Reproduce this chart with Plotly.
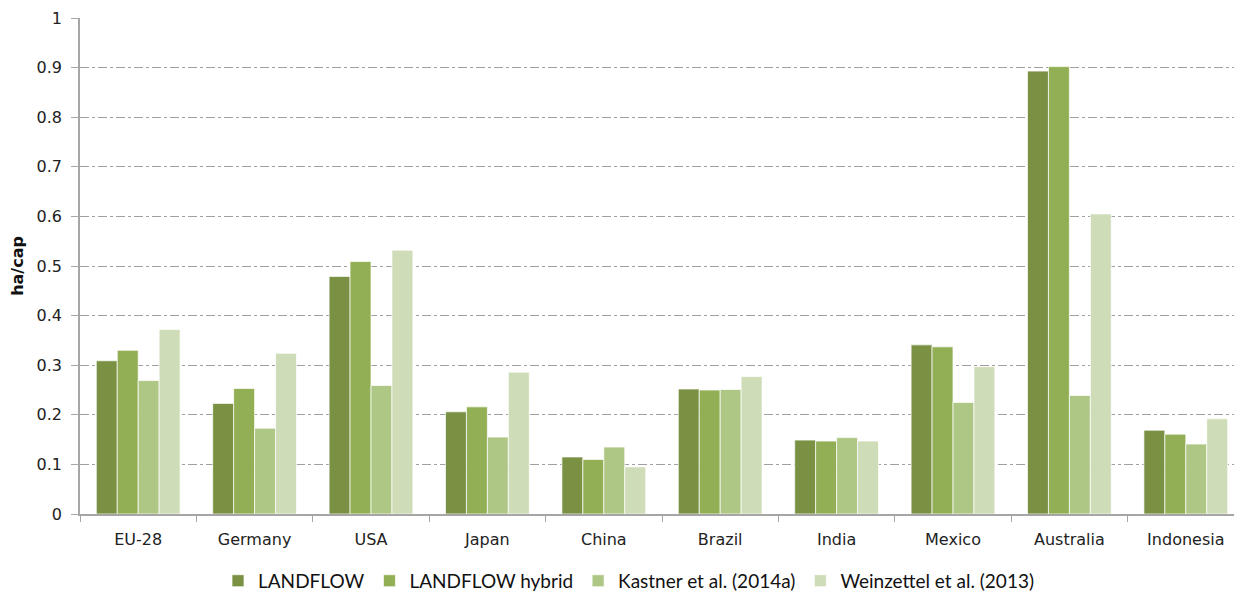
import plotly.graph_objects as go

countries = ["EU-28", "Germany", "USA", "Japan", "China", "Brazil", "India", "Mexico", "Australia", "Indonesia"]
landflow = [0.309, 0.223, 0.479, 0.206, 0.115, 0.252, 0.149, 0.341, 0.893, 0.169]
landflow_hybrid = [0.330, 0.253, 0.509, 0.216, 0.110, 0.250, 0.147, 0.337, 0.902, 0.161]
kastner = [0.269, 0.173, 0.259, 0.155, 0.135, 0.251, 0.154, 0.225, 0.239, 0.141]
weinzettel = [0.372, 0.324, 0.532, 0.286, 0.095, 0.277, 0.147, 0.297, 0.605, 0.192]
y_ticks = [0, 0.1, 0.2, 0.3, 0.4, 0.5, 0.6, 0.7, 0.8, 0.9, 1]
y_tick_labels = ["0", "0.1", "0.2", "0.3", "0.4", "0.5", "0.6", "0.7", "0.8", "0.9", "1"]

series = [
    ("LANDFLOW", landflow, "#7A9144"),
    ("LANDFLOW hybrid", landflow_hybrid, "#93AF55"),
    ("Kastner et al. (2014a)", kastner, "#AFC785"),
    ("Weinzettel et al. (2013)", weinzettel, "#CFDCB8"),
]

fig = go.Figure()
for name, vals, col in series:
    fig.add_trace(go.Bar(
        name=name, x=countries, y=vals,
        marker=dict(color=col, line=dict(color="rgba(255,255,255,0.7)", width=1)),
    ))

fig.update_layout(
    width=1242, height=598,
    margin=dict(l=72, r=6, t=10, b=92),
    plot_bgcolor="white", paper_bgcolor="white",
    barmode="group", bargap=0.28, bargroupgap=0,
    font=dict(family="DejaVu Sans", size=16, color="#333333"),
    legend=dict(
        orientation="h", x=0.5, xanchor="center", xref="container",
        y=0.042, yanchor="middle", yref="container",
        font=dict(family="Lato", size=19, color="#111111"),
        itemwidth=30, tracegroupgap=0,
    ),
    xaxis=dict(
        automargin=False,
        showline=True, linecolor="#A6A6A6", linewidth=1.5,
        ticks="outside", tickson="boundaries", ticklen=6, tickcolor="#A6A6A6",
        tickfont=dict(family="DejaVu Sans", size=16, color="#222222"),
        ticklabelstandoff=10,
        showgrid=False,
    ),
    yaxis=dict(
        automargin=False,
        range=[0, 1], tickvals=y_ticks, ticktext=y_tick_labels,
        showline=True, linecolor="#A6A6A6", linewidth=1.5,
        ticks="outside", ticklen=7, tickcolor="#A6A6A6",
        tickfont=dict(family="DejaVu Sans", size=16, color="#222222"),
        ticklabelstandoff=6,
        showgrid=True, gridcolor="#A0A0A0", griddash="dashdot", gridwidth=1,
        zeroline=False,
        title=dict(text="<b>ha/cap</b>", font=dict(family="DejaVu Sans", size=16, color="#111111"), standoff=9),
    ),
)

fig.write_html("out.html")
